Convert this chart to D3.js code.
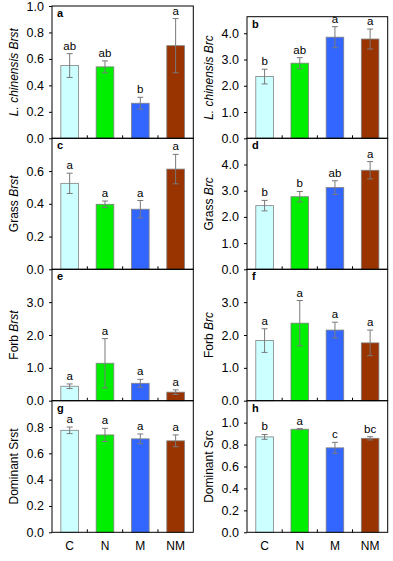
<!DOCTYPE html>
<html><head><meta charset="utf-8">
<script src="https://cdn.jsdelivr.net/npm/d3@7"></script>
<style>body{margin:0;background:#fff}svg text{font-family:Arial,"Liberation Sans",sans-serif}</style>
</head><body><svg id="c" width="393" height="561"></svg>
<script>
const categories = ["C","N","M","NM"];
const colors = ["#ccffff","#00ee00","#3366ff","#993300"];
const panelIds = ["a","b","c","d","e","f","g","h"];
const titlePre = ["L. chinensis ","L. chinensis ","Grass ","Grass ","Forb ","Forb ","Dominant ","Dominant "];
const titleVar = ["Brst","Brc","Brst","Brc","Brst","Brc","Srst","Src"];
const titlePreItalic = [true,true,false,false,false,false,false,false];
const titleVarItalic = [true,true,true,true,true,true,false,false];
const yMax = [1.0, 4.63, 0.8, 5.0, 4.0, 4.0, 1.0, 1.2];
const yStep = [0.2, 1.0, 0.2, 1.0, 1.0, 1.0, 0.2, 0.2];
const meansA = [0.55,0.54,0.265,0.70];   const errA = [0.09,0.045,0.045,0.205];  const letA = ["ab","ab","b","a"];
const meansB = [2.35,2.86,3.85,3.78];    const errB = [0.28,0.21,0.40,0.38];     const letB = ["b","ab","a","a"];
const meansC = [0.525,0.397,0.367,0.612];const errC = [0.062,0.02,0.053,0.09];   const letC = ["a","a","a","a"];
const meansD = [2.43,2.77,3.12,3.78];    const errD = [0.2,0.2,0.26,0.33];       const letD = ["b","b","ab","a"];
const meansE = [0.44,1.14,0.53,0.26];    const errE = [0.07,0.75,0.12,0.07];     const letE = ["a","a","a","a"];
const meansF = [1.83,2.36,2.15,1.76];    const errF = [0.36,0.69,0.24,0.39];     const letF = ["a","a","a","a"];
const meansG = [0.775,0.74,0.71,0.695];  const errG = [0.025,0.05,0.037,0.045];  const letG = ["a","a","a","a"];
const meansH = [0.87,0.94,0.77,0.857];   const errH = [0.022,0.005,0.05,0.015];  const letH = ["b","a","c","bc"];

const means = [meansA,meansB,meansC,meansD,meansE,meansF,meansG,meansH];
const errs = [errA,errB,errC,errD,errE,errF,errG,errH];
const lets = [letA,letB,letC,letD,letE,letF,letG,letH];

const colX = [[52,193.3],[247,387.7]];
const rowY = [138.3,269.3,400.7,532.3];
const topY = [6,16.7];

const svg = d3.select("#c");
panelIds.forEach((id,i)=>{
  const col = i%2, row = Math.floor(i/2);
  const x0 = colX[col][0], x1 = colX[col][1];
  const yb = rowY[row];
  const yt = row===0 ? topY[col] : rowY[row-1];
  const x = d3.scaleBand().domain(categories).range([x0,x1]).paddingInner(0.5).paddingOuter(0.25);
  const y = d3.scaleLinear().domain([0,yMax[i]]).range([yb,yt]);
  const g = svg.append("g");
  const nt = Math.floor(yMax[i]/yStep[i]+1e-6);
  let ticks = d3.range(0,nt+1).map(k=>+(k*yStep[i]).toFixed(2));
  if(row>0) ticks = ticks.filter(t=>Math.abs(t-yMax[i])>1e-6);
  // bars
  g.selectAll("rect.bar").data(categories).join("rect")
    .attr("x",d=>x(d)).attr("width",x.bandwidth())
    .attr("y",(d,k)=>y(means[i][k])).attr("height",(d,k)=>yb-y(means[i][k]))
    .attr("fill",(d,k)=>colors[k]).attr("stroke","#808080").attr("stroke-width",0.8);
  // error bars
  categories.forEach((c,k)=>{
    const cx = x(c)+x.bandwidth()/2;
    const m = means[i][k], e = errs[i][k];
    const ya = y(m+e), yl = y(Math.max(0,m-e));
    const eg = g.append("g").attr("stroke","#7a7a7a").attr("stroke-width",1);
    eg.append("line").attr("x1",cx).attr("x2",cx).attr("y1",ya).attr("y2",yl);
    eg.append("line").attr("x1",cx-3).attr("x2",cx+3).attr("y1",ya).attr("y2",ya);
    eg.append("line").attr("x1",cx-3).attr("x2",cx+3).attr("y1",yl).attr("y2",yl);
    g.append("text").attr("x",cx).attr("y",ya-4).attr("text-anchor","middle")
      .attr("font-size",11.5).attr("fill","#000").text(lets[i][k]);
  });
  // frame
  g.append("rect").attr("x",x0).attr("y",yt).attr("width",x1-x0).attr("height",yb-yt)
    .attr("fill","none").attr("stroke","#000").attr("stroke-width",1);
  // y axis
  const ya = g.append("g").attr("transform",`translate(${x0},0)`)
    .call(d3.axisLeft(y).tickValues(ticks).tickFormat(d3.format(".1f")).tickSize(3).tickPadding(5));
  ya.select(".domain").remove();
  ya.selectAll("text").attr("font-size",12.5).attr("fill","#000").style("font-family","Arial, 'Liberation Sans', sans-serif");
  // x ticks (inner, between categories)
  const bnd = d3.range(1,categories.length).map(k=>x0+(x1-x0)*k/categories.length);
  g.selectAll("line.xt").data(bnd).join("line")
    .attr("x1",d=>d).attr("x2",d=>d).attr("y1",yb).attr("y2",yb-3).attr("stroke","#000");
  // panel letter
  g.append("text").attr("x",x0+5).attr("y",yt+11).attr("font-size",11).attr("font-weight","bold").text(id);
  // y title
  const t = g.append("text").attr("transform",`translate(${col===0?14:209},${(yt+yb)/2}) rotate(-90)`)
    .attr("text-anchor","middle").attr("dominant-baseline","central").attr("font-size",12);
  t.append("tspan").attr("font-style",titlePreItalic[i]?"italic":"normal").text(titlePre[i]);
  t.append("tspan").attr("font-style",titleVarItalic[i]?"italic":"normal").text(titleVar[i]);
  // category labels
  if(row===3){
    g.selectAll("text.cat").data(categories).join("text")
      .attr("x",d=>x(d)+x.bandwidth()/2).attr("y",550).attr("text-anchor","middle")
      .attr("font-size",12).text(d=>d);
  }
});
</script></body></html>
